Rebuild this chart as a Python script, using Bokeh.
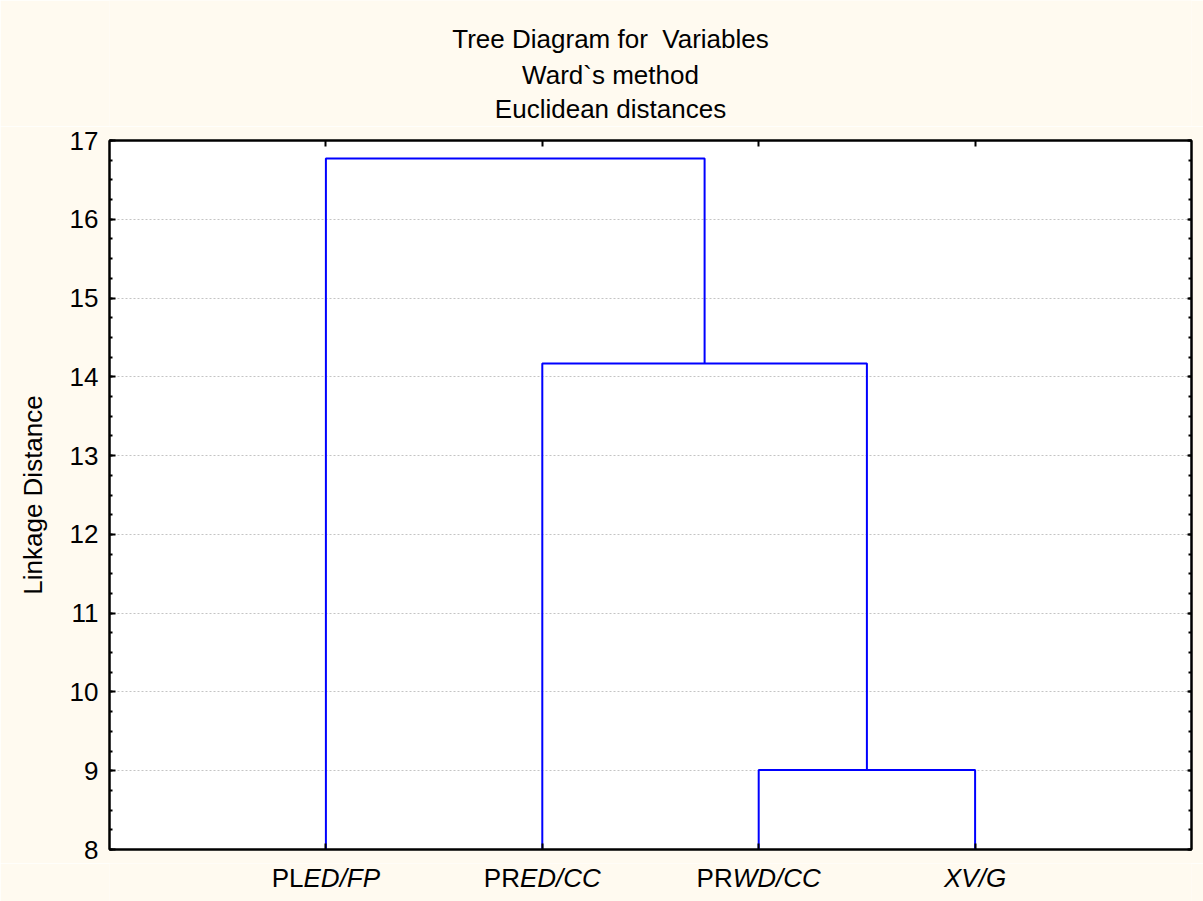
from bokeh.plotting import figure
from bokeh.models import Range1d, FixedTicker, LinearAxis
from bokeh.layouts import column
from bokeh.core.properties import value
from bokeh.embed import file_html
from bokeh.resources import INLINE

# ---- data ----
title_lines = ["Tree Diagram for \u00a0Variables", "Ward`s method", "Euclidean distances"]
y_label = "Linkage Distance"
leaf_prefix = ["PL", "PR", "PR", ""]               # upright part of each leaf label
leaf_italic = ["ED/FP", "ED/CC", "WD/CC", "XV/G"]  # italic part of each leaf label
leaf_pos = [1, 2, 3, 4]
# merges: node ids 0..3 are leaves, 4.. are new clusters in order
merge_left = [2, 1, 0]
merge_right = [3, 4, 5]
merge_height = [9.01, 14.17, 16.77]
y_ticks = [8, 9, 10, 11, 12, 13, 14, 15, 16, 17]
y_min, y_max = 8, 17
x_min, x_max = 0, 5

FONT = "Liberation Sans"
CREAM = "#FFFAF0"
FS = 26

# ---- page geometry (pixels) ----
PAGE_W = 1203
FRAME_L, FRAME_R, FRAME_T, FRAME_B = 109, 1191, 140, 849
BORDER_TB = 14
TOP_H = FRAME_T - BORDER_TB
MAIN_H = (FRAME_B - FRAME_T) + 2 * BORDER_TB
BOT_H = 38
ppu = (FRAME_R - FRAME_L) / (x_max - x_min)
BASE_FIX = 10  # renderer places alphabetic baseline this much lower

# ---- dendrogram geometry from the merge table ----
node_x = list(leaf_pos)
node_y = [y_min] * len(leaf_pos)
xs, ys = [], []
for l, r, h in zip(merge_left, merge_right, merge_height):
    xl, xr = node_x[l], node_x[r]
    xs.append([xl, xl, xr, xr])
    ys.append([node_y[l], h, h, node_y[r]])
    node_x.append((xl + xr) / 2)
    node_y.append(h)


def blank_fig(h):
    f = figure(width=PAGE_W, height=h, output_backend="svg", toolbar_location=None,
               x_range=Range1d(x_min, x_max), y_range=Range1d(0, h),
               x_axis_location=None, y_axis_location=None,
               background_fill_color=CREAM, border_fill_color=CREAM,
               min_border=0, min_border_left=FRAME_L, min_border_right=PAGE_W - FRAME_R,
               outline_line_color=None)
    f.xgrid.visible = False
    f.ygrid.visible = False
    return f


# ---- title strip ----
top = blank_fig(TOP_H)
title_x = (610 - FRAME_L) / ppu
top.text(x=[title_x] * 3,
         y=[TOP_H - 48 + BASE_FIX, TOP_H - 84 + BASE_FIX, TOP_H - 118 + BASE_FIX],
         text=title_lines, text_align="center", text_baseline="alphabetic",
         text_font=value(FONT), text_font_size=f"{FS}px", text_color="black")

# ---- main plot ----
p = figure(width=PAGE_W, height=MAIN_H, output_backend="svg", toolbar_location=None,
           x_range=Range1d(x_min, x_max), y_range=Range1d(y_min, y_max),
           background_fill_color="white", border_fill_color=CREAM,
           min_border_left=FRAME_L, min_border_right=PAGE_W - FRAME_R,
           min_border_top=BORDER_TB, min_border_bottom=BORDER_TB)
p.outline_line_color = "black"
p.outline_line_width = 2

p.multi_line(xs=xs, ys=ys, line_color="#0000FF", line_width=2)

minor = [y_min + 0.25 * i for i in range(int((y_max - y_min) * 4) + 1)]
yt = FixedTicker(ticks=y_ticks, minor_ticks=minor)
yax = p.yaxis[0]
yax.ticker = yt
yax.axis_label = y_label
yax.axis_label_text_font = FONT
yax.axis_label_text_font_size = f"{FS}px"
yax.axis_label_text_font_style = "normal"
yax.axis_label_text_color = "black"
yax.axis_label_standoff = 19
yax.major_label_text_font = FONT
yax.major_label_text_font_size = f"{FS}px"
yax.major_label_text_color = "black"
yax.major_label_standoff = 11
yax.major_tick_in = 6
yax.major_tick_out = 0
yax.minor_tick_in = 3
yax.minor_tick_out = 0
yax.axis_line_color = "black"
yax.axis_line_width = 2
yax.major_tick_line_width = 2
yax.minor_tick_line_width = 2

rax = LinearAxis(ticker=FixedTicker(ticks=y_ticks, minor_ticks=minor),
                 major_label_overrides={t: "" for t in y_ticks},
                 major_label_standoff=0, major_label_text_font_size="1px",
                 major_tick_in=4, major_tick_out=0, minor_tick_in=3, minor_tick_out=0,
                 axis_line_color="black", axis_line_width=2,
                 major_tick_line_width=2, minor_tick_line_width=2)
p.add_layout(rax, "right")

xax = p.xaxis[0]
xax.ticker = FixedTicker(ticks=leaf_pos, minor_ticks=[])
xax.major_label_overrides = {t: "" for t in leaf_pos}
xax.major_label_text_font_size = "1px"
xax.major_label_standoff = 0
xax.major_tick_in = 6
xax.major_tick_out = 0
xax.major_tick_line_width = 2
xax.axis_line_color = "black"
xax.axis_line_width = 2

tax = LinearAxis(ticker=FixedTicker(ticks=leaf_pos, minor_ticks=[]),
                 major_label_overrides={t: "" for t in leaf_pos},
                 major_label_standoff=0, major_label_text_font_size="1px",
                 major_tick_in=6, major_tick_out=0, major_tick_line_width=2,
                 axis_line_color="black", axis_line_width=2)
p.add_layout(tax, "above")

p.xgrid.visible = False
p.ygrid.ticker = yt
p.ygrid.grid_line_color = "#c4c4c4"
p.ygrid.grid_line_dash = "2 2"
p.ygrid.grid_line_width = 1

# ---- leaf label strip: upright prefix + italic remainder ----
bot = blank_fig(BOT_H)
W = {"P": .667, "L": .556, "R": .722, "E": .667, "D": .722, "W": .944, "/": .278,
     "F": .611, "C": .722, "X": .667, "V": .667, "G": .778}
base_y = 901 - 887 + BASE_FIX
splits = []
for pre, ita in zip(leaf_prefix, leaf_italic):
    wp = sum(W[c] for c in pre) * FS
    wi = sum(W[c] for c in ita) * FS
    splits.append(-(wp + wi) / 2 + wp)
pre_x = [x for x, pre in zip(leaf_pos, leaf_prefix) if pre]
pre_off = [s for s, pre in zip(splits, leaf_prefix) if pre]
pre_txt = [pre for pre in leaf_prefix if pre]
bot.text(x=pre_x, y=[base_y] * len(pre_x), text=pre_txt, x_offset=pre_off,
         text_align="right", text_baseline="alphabetic",
         text_font=value(FONT), text_font_size=f"{FS}px", text_color="black")
bot.text(x=leaf_pos, y=[base_y] * len(leaf_pos), text=leaf_italic, x_offset=splits,
         text_align="left", text_baseline="alphabetic",
         text_font=value(FONT), text_font_size=f"{FS}px", text_font_style="italic",
         text_color="black")

layout = column(top, p, bot, spacing=0)
open("out.html", "w").write(file_html(layout, INLINE))
